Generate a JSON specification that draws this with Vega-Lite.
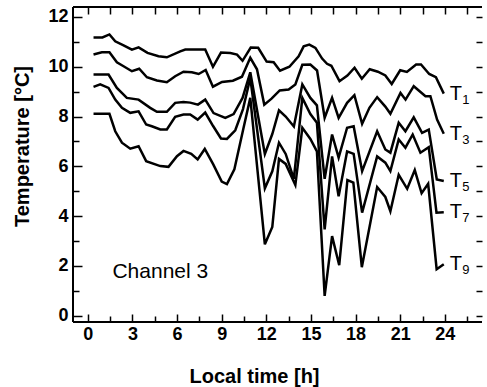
{
  "$schema": "https://vega.github.io/schema/vega-lite/v6.json",
  "width": 409,
  "height": 315,
  "autosize": {"type": "none"},
  "padding": {"left": 73, "top": 7, "right": 5, "bottom": 65},
  "background": "white",
  "config": {"view": {"stroke": null}, "font": "Liberation Sans"},
  "datasets": {"series": [
    {"s":"T1","t":0.38,"v":11.18},{"s":"T1","t":0.98,"v":11.18},{"s":"T1","t":1.45,"v":11.30},{"s":"T1","t":1.84,"v":11.02},{"s":"T1","t":2.40,"v":10.86},{"s":"T1","t":2.96,"v":10.69},{"s":"T1","t":3.41,"v":10.78},{"s":"T1","t":4.01,"v":10.56},{"s":"T1","t":4.75,"v":10.42},{"s":"T1","t":5.31,"v":10.38},{"s":"T1","t":6.21,"v":10.62},{"s":"T1","t":6.55,"v":10.69},{"s":"T1","t":7.89,"v":10.69},{"s":"T1","t":8.41,"v":10.00},{"s":"T1","t":8.95,"v":10.57},{"s":"T1","t":9.58,"v":10.55},{"s":"T1","t":10.03,"v":10.49},{"s":"T1","t":10.40,"v":10.24},{"s":"T1","t":10.95,"v":10.77},{"s":"T1","t":11.45,"v":10.76},{"s":"T1","t":12.02,"v":10.21},{"s":"T1","t":12.49,"v":10.18},{"s":"T1","t":12.92,"v":9.84},{"s":"T1","t":13.55,"v":10.00},{"s":"T1","t":14.17,"v":10.42},{"s":"T1","t":14.51,"v":10.82},{"s":"T1","t":14.89,"v":10.89},{"s":"T1","t":15.30,"v":10.76},{"s":"T1","t":15.75,"v":10.33},{"s":"T1","t":16.08,"v":10.12},{"s":"T1","t":16.37,"v":10.04},{"s":"T1","t":16.92,"v":9.42},{"s":"T1","t":17.45,"v":9.65},{"s":"T1","t":17.93,"v":9.96},{"s":"T1","t":18.42,"v":9.52},{"s":"T1","t":18.95,"v":9.90},{"s":"T1","t":19.50,"v":9.80},{"s":"T1","t":20.00,"v":9.65},{"s":"T1","t":20.43,"v":9.31},{"s":"T1","t":21.00,"v":9.86},{"s":"T1","t":21.45,"v":9.79},{"s":"T1","t":22.07,"v":10.09},{"s":"T1","t":22.40,"v":10.09},{"s":"T1","t":22.95,"v":9.71},{"s":"T1","t":23.40,"v":9.58},{"s":"T1","t":23.93,"v":8.92},
    {"s":"T3","t":0.38,"v":10.49},{"s":"T3","t":0.94,"v":10.58},{"s":"T3","t":1.45,"v":10.58},{"s":"T3","t":1.95,"v":10.18},{"s":"T3","t":2.40,"v":10.02},{"s":"T3","t":2.96,"v":9.82},{"s":"T3","t":3.45,"v":9.92},{"s":"T3","t":3.97,"v":9.58},{"s":"T3","t":4.64,"v":9.45},{"s":"T3","t":5.31,"v":9.38},{"s":"T3","t":5.87,"v":9.62},{"s":"T3","t":6.43,"v":9.80},{"s":"T3","t":6.99,"v":9.78},{"s":"T3","t":7.45,"v":9.71},{"s":"T3","t":7.92,"v":9.87},{"s":"T3","t":8.41,"v":9.20},{"s":"T3","t":9.02,"v":9.39},{"s":"T3","t":9.75,"v":9.44},{"s":"T3","t":10.36,"v":9.60},{"s":"T3","t":10.92,"v":10.36},{"s":"T3","t":11.37,"v":9.90},{"s":"T3","t":11.86,"v":8.48},{"s":"T3","t":12.35,"v":8.72},{"s":"T3","t":12.90,"v":9.05},{"s":"T3","t":13.50,"v":9.09},{"s":"T3","t":13.95,"v":9.29},{"s":"T3","t":14.42,"v":10.08},{"s":"T3","t":14.96,"v":10.09},{"s":"T3","t":15.41,"v":9.85},{"s":"T3","t":15.92,"v":7.95},{"s":"T3","t":16.42,"v":8.75},{"s":"T3","t":16.86,"v":7.95},{"s":"T3","t":17.43,"v":8.55},{"s":"T3","t":17.92,"v":8.86},{"s":"T3","t":18.44,"v":7.71},{"s":"T3","t":18.93,"v":8.35},{"s":"T3","t":19.45,"v":8.78},{"s":"T3","t":20.00,"v":8.40},{"s":"T3","t":20.34,"v":8.11},{"s":"T3","t":21.02,"v":8.95},{"s":"T3","t":21.36,"v":8.68},{"s":"T3","t":21.91,"v":9.22},{"s":"T3","t":22.70,"v":8.82},{"s":"T3","t":23.03,"v":8.82},{"s":"T3","t":23.48,"v":7.88},{"s":"T3","t":23.93,"v":7.31},
    {"s":"T5","t":0.38,"v":9.69},{"s":"T5","t":1.39,"v":9.69},{"s":"T5","t":1.95,"v":9.15},{"s":"T5","t":2.62,"v":8.75},{"s":"T5","t":3.41,"v":8.68},{"s":"T5","t":4.19,"v":8.35},{"s":"T5","t":4.64,"v":8.19},{"s":"T5","t":5.31,"v":8.19},{"s":"T5","t":5.87,"v":8.55},{"s":"T5","t":6.43,"v":8.58},{"s":"T5","t":6.88,"v":8.56},{"s":"T5","t":7.40,"v":8.48},{"s":"T5","t":7.89,"v":8.68},{"s":"T5","t":8.45,"v":8.14},{"s":"T5","t":9.24,"v":7.95},{"s":"T5","t":9.80,"v":8.10},{"s":"T5","t":10.40,"v":8.75},{"s":"T5","t":10.92,"v":9.78},{"s":"T5","t":11.90,"v":6.50},{"s":"T5","t":12.40,"v":7.30},{"s":"T5","t":12.85,"v":8.25},{"s":"T5","t":13.30,"v":8.00},{"s":"T5","t":13.85,"v":7.60},{"s":"T5","t":14.42,"v":9.29},{"s":"T5","t":14.96,"v":8.75},{"s":"T5","t":15.40,"v":8.45},{"s":"T5","t":15.92,"v":5.50},{"s":"T5","t":16.42,"v":7.28},{"s":"T5","t":16.86,"v":6.35},{"s":"T5","t":17.43,"v":7.55},{"s":"T5","t":17.87,"v":7.61},{"s":"T5","t":18.44,"v":5.81},{"s":"T5","t":19.45,"v":7.41},{"s":"T5","t":20.00,"v":6.68},{"s":"T5","t":20.34,"v":6.55},{"s":"T5","t":20.90,"v":7.75},{"s":"T5","t":21.35,"v":7.41},{"s":"T5","t":21.91,"v":7.97},{"s":"T5","t":22.47,"v":7.35},{"s":"T5","t":22.92,"v":7.48},{"s":"T5","t":23.46,"v":5.47},{"s":"T5","t":23.93,"v":5.41},
    {"s":"T7","t":0.38,"v":9.19},{"s":"T7","t":0.83,"v":9.29},{"s":"T7","t":1.39,"v":9.15},{"s":"T7","t":1.84,"v":8.68},{"s":"T7","t":2.29,"v":8.35},{"s":"T7","t":2.85,"v":8.15},{"s":"T7","t":3.41,"v":8.21},{"s":"T7","t":3.92,"v":7.68},{"s":"T7","t":4.30,"v":7.61},{"s":"T7","t":4.87,"v":7.48},{"s":"T7","t":5.31,"v":7.48},{"s":"T7","t":5.87,"v":7.99},{"s":"T7","t":6.43,"v":8.08},{"s":"T7","t":6.88,"v":8.08},{"s":"T7","t":7.38,"v":7.88},{"s":"T7","t":7.89,"v":8.16},{"s":"T7","t":8.41,"v":7.63},{"s":"T7","t":8.95,"v":7.12},{"s":"T7","t":9.35,"v":7.10},{"s":"T7","t":9.91,"v":7.45},{"s":"T7","t":10.43,"v":8.30},{"s":"T7","t":10.92,"v":9.55},{"s":"T7","t":11.90,"v":5.12},{"s":"T7","t":12.40,"v":5.80},{"s":"T7","t":12.85,"v":6.95},{"s":"T7","t":13.30,"v":6.50},{"s":"T7","t":13.85,"v":5.50},{"s":"T7","t":14.42,"v":8.75},{"s":"T7","t":14.96,"v":8.10},{"s":"T7","t":15.40,"v":7.75},{"s":"T7","t":15.92,"v":3.47},{"s":"T7","t":16.42,"v":6.40},{"s":"T7","t":16.86,"v":4.80},{"s":"T7","t":17.43,"v":6.60},{"s":"T7","t":17.87,"v":6.50},{"s":"T7","t":18.44,"v":4.14},{"s":"T7","t":19.45,"v":6.40},{"s":"T7","t":20.00,"v":6.15},{"s":"T7","t":20.34,"v":5.81},{"s":"T7","t":20.90,"v":7.08},{"s":"T7","t":21.35,"v":6.75},{"s":"T7","t":21.84,"v":7.28},{"s":"T7","t":22.36,"v":6.55},{"s":"T7","t":22.92,"v":6.77},{"s":"T7","t":23.44,"v":4.14},{"s":"T7","t":23.93,"v":4.16},
    {"s":"T9","t":0.38,"v":8.11},{"s":"T9","t":1.45,"v":8.11},{"s":"T9","t":1.84,"v":7.41},{"s":"T9","t":2.29,"v":6.95},{"s":"T9","t":2.85,"v":6.71},{"s":"T9","t":3.41,"v":6.81},{"s":"T9","t":3.92,"v":6.21},{"s":"T9","t":4.87,"v":6.01},{"s":"T9","t":5.42,"v":5.98},{"s":"T9","t":5.99,"v":6.41},{"s":"T9","t":6.43,"v":6.62},{"s":"T9","t":6.95,"v":6.50},{"s":"T9","t":7.38,"v":6.28},{"s":"T9","t":7.86,"v":6.70},{"s":"T9","t":8.43,"v":6.08},{"s":"T9","t":9.00,"v":5.39},{"s":"T9","t":9.35,"v":5.29},{"s":"T9","t":9.85,"v":5.88},{"s":"T9","t":10.45,"v":7.50},{"s":"T9","t":10.92,"v":8.75},{"s":"T9","t":11.90,"v":2.87},{"s":"T9","t":12.40,"v":3.57},{"s":"T9","t":12.85,"v":6.30},{"s":"T9","t":13.30,"v":6.10},{"s":"T9","t":13.95,"v":5.25},{"s":"T9","t":14.42,"v":7.55},{"s":"T9","t":14.96,"v":7.10},{"s":"T9","t":15.40,"v":6.60},{"s":"T9","t":15.92,"v":0.80},{"s":"T9","t":16.42,"v":3.20},{"s":"T9","t":16.90,"v":2.03},{"s":"T9","t":17.45,"v":5.45},{"s":"T9","t":17.85,"v":5.35},{"s":"T9","t":18.42,"v":1.95},{"s":"T9","t":19.45,"v":5.17},{"s":"T9","t":20.00,"v":4.77},{"s":"T9","t":20.34,"v":4.20},{"s":"T9","t":20.90,"v":5.66},{"s":"T9","t":21.47,"v":5.10},{"s":"T9","t":21.98,"v":5.85},{"s":"T9","t":22.44,"v":4.92},{"s":"T9","t":22.88,"v":5.30},{"s":"T9","t":23.45,"v":1.87},{"s":"T9","t":23.93,"v":2.07}
  ]},
  "resolve": {"axis": {"x": "independent", "y": "independent"}},
  "layer": [
    {
      "data": {"name": "series"},
      "mark": {"type": "line", "color": "black", "strokeWidth": 2.5},
      "encoding": {
        "x": {"field": "t", "type": "quantitative",
              "scale": {"domain": [-1, 26.5], "nice": false, "zero": false},
              "axis": {"orient": "bottom", "values": [0,3,6,9,12,15,18,21,24], "offset": -8, "tickSize": 8, "labelPadding": 3.5,
                       "labelFontSize": 18, "labelFontWeight": "bold", "labelColor": "black", "labelFlush": false, "labelOverlap": false,
                       "ticks": true, "tickColor": "black", "tickWidth": 1.5, "domain": false, "grid": false,
                       "title": "Local time [h]", "titleFontSize": 20, "titleFontWeight": "bold", "titleColor": "black",
                       "titleX": 181, "titleY": 68, "titleBaseline": "alphabetic", "titleAlign": "center"}},
        "y": {"field": "v", "type": "quantitative",
              "scale": {"domain": [-0.25, 12.4], "nice": false, "zero": false},
              "axis": {"orient": "left", "values": [0,2,4,6,8,10,12], "offset": -9, "tickSize": 9, "labelPadding": 5,
                       "labelFontSize": 18, "labelFontWeight": "bold", "labelColor": "black", "labelFlush": false, "labelOverlap": false,
                       "ticks": true, "tickColor": "black", "tickWidth": 1.5, "domain": false, "grid": false,
                       "title": "Temperature [°C]", "titleFontSize": 20, "titleFontWeight": "bold", "titleColor": "black",
                       "titleAngle": -90, "titleX": -60, "titleY": 139, "titleBaseline": "middle", "titleAlign": "center"}},
        "detail": {"field": "s"}
      }
    },
    {
      "data": {"name": "series"},
      "transform": [{"aggregate": [{"op": "argmax", "field": "t", "as": "last"}], "groupby": ["s"]}],
      "mark": {"type": "text", "align": "left", "baseline": "alphabetic", "dx": 6, "dy": 6, "fontSize": 20, "color": "black"},
      "encoding": {
        "x": {"field": "last.t", "type": "quantitative",
              "axis": {"orient": "bottom", "values": [1.5,4.5,7.5,10.5,13.5,16.5,19.5,22.5,25.5], "offset": -6, "tickSize": 6, "labels": false, "domain": false, "grid": false, "title": null, "ticks": true, "tickColor": "black", "tickWidth": 1.5}},
        "y": {"field": "last.v", "type": "quantitative",
              "axis": {"orient": "left", "values": [1,3,5,7,9,11], "offset": -6, "tickSize": 6, "labels": false, "domain": false, "grid": false, "title": null, "ticks": true, "tickColor": "black", "tickWidth": 1.5}},
        "text": {"value": "T"}
      }
    },
    {
      "data": {"name": "series"},
      "transform": [
        {"aggregate": [{"op": "argmax", "field": "t", "as": "last"}], "groupby": ["s"]},
        {"calculate": "substring(datum.s, 1)", "as": "digit"}
      ],
      "mark": {"type": "text", "align": "left", "baseline": "alphabetic", "dx": 18.5, "dy": 10, "fontSize": 13, "color": "black"},
      "encoding": {
        "x": {"field": "last.t", "type": "quantitative",
              "axis": {"orient": "top", "values": [0,1.5,3,4.5,6,7.5,9,10.5,12,13.5,15,16.5,18,19.5,21,22.5,24,25.5], "offset": -7, "tickSize": 7, "labels": false, "domain": false, "grid": false, "title": null, "ticks": true, "tickColor": "black", "tickWidth": 1.5}},
        "y": {"field": "last.v", "type": "quantitative",
              "axis": {"orient": "right", "values": [0,1,2,3,4,5,6,7,8,9,10,11,12], "offset": -6, "tickSize": 6, "labels": false, "domain": false, "grid": false, "title": null, "ticks": true, "tickColor": "black", "tickWidth": 1.5}},
        "text": {"field": "digit"}
      }
    },
    {
      "data": {"values": [{"edge": "left"}]},
      "mark": {"type": "rule", "color": "black", "strokeWidth": 2},
      "encoding": {
        "x": {"datum": -1, "type": "quantitative", "axis": null}
      }
    },
    {
      "data": {"values": [{"edge": "top"}]},
      "mark": {"type": "rule", "color": "black", "strokeWidth": 2},
      "encoding": {
        "y": {"datum": 12.4, "type": "quantitative", "axis": null}
      }
    },
    {
      "data": {"values": [{"edge": "bottom"}]},
      "mark": {"type": "rule", "color": "black", "strokeWidth": 2},
      "encoding": {
        "y": {"datum": -0.25, "type": "quantitative", "axis": null}
      }
    },
    {
      "data": {"values": [{"label": "Channel 3"}]},
      "mark": {"type": "text", "align": "center", "baseline": "alphabetic", "fontSize": 21, "color": "black"},
      "encoding": {
        "x": {"datum": 4.87, "type": "quantitative", "axis": null},
        "y": {"datum": 1.5, "type": "quantitative", "axis": null},
        "text": {"field": "label"}
      }
    }
  ]
}
